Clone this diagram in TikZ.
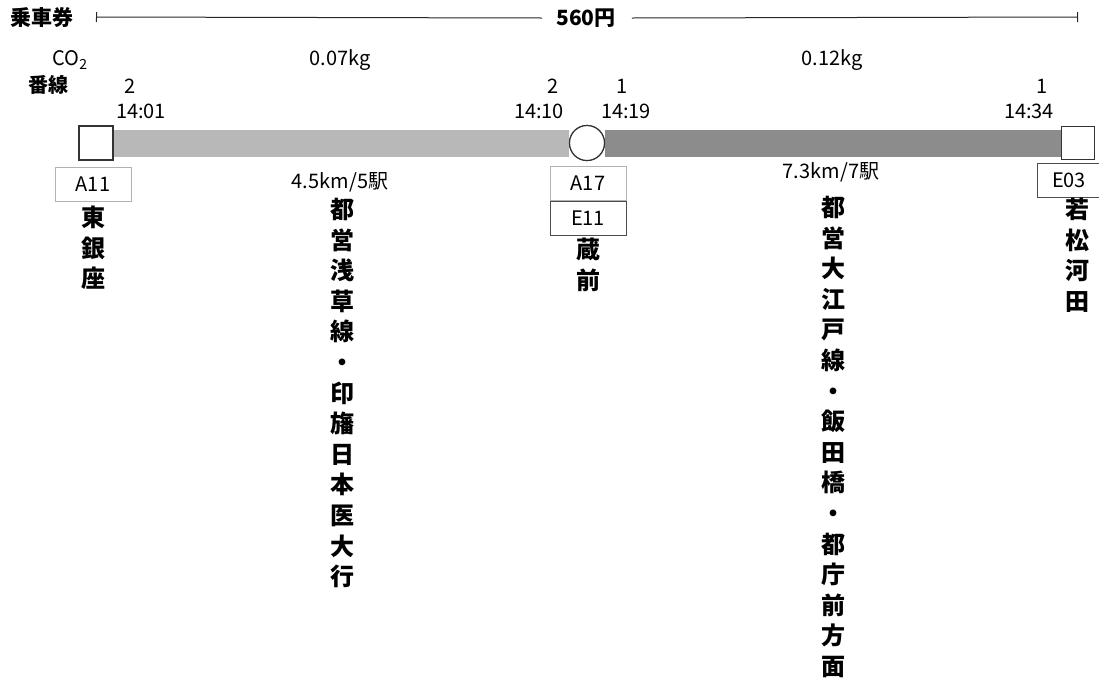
\documentclass[tikz,border=0pt]{standalone}
\usepackage{fontspec}
\setmainfont{Noto Sans CJK JP}
\usetikzlibrary{arrows.meta}
\tikzset{
  lbl/.style={inner sep=0pt, font=\fontsize{20}{20}\selectfont},
  big/.style={inner sep=0pt, font=\bfseries\fontsize{21}{21}\selectfont},
  vert/.style={inner sep=0pt, anchor=north, align=center, font=\bfseries\fontsize{24}{30.6}\selectfont},
  codebox/.style={draw=gray!60, line width=0.8pt, minimum width=76pt, minimum height=34pt, inner sep=0pt, font=\fontsize{20}{20}\selectfont},
  codeboxd/.style={codebox, draw=black!70},
  stn/.style={draw=black!80, line width=1.2pt, fill=white, inner sep=0pt},
  barL/.style={line width=27pt, draw=black!28},
  barR/.style={line width=27pt, draw=black!45},
  fareline/.style={line width=1pt, draw=black!85}
}
\begin{document}
\begin{tikzpicture}[x=1pt,y=-1pt]
\useasboundingbox (0,0) rectangle (1099,681);
% fare line
\node[big, anchor=west] (ticket) at (10,18) {乗車券};
\node[big] (fare) at (586,18) {560円};
\coordinate (tl) at (96,17);
\coordinate (tr) at (1078,17);
\draw[fareline, {Bar[width=10pt]}-] (tl) -- ([xshift=-14pt]fare.west);
\draw[fareline, -{Bar[width=10pt]}] ([xshift=16pt]fare.east) -- (tr);
% headings
\node[lbl] (co2) at (70,60) {CO\textsubscript{2}};
\node[lbl, font=\bfseries\fontsize{20}{20}\selectfont] (bansen) at (48,85) {番線};
\node[lbl] (kgA) at (340,60) {0.07kg};
\node[lbl] (kgB) at (832,60) {0.12kg};
% stations
\node[stn, minimum size=34pt] (sA) at (96,143) {};
\node[stn, circle, minimum size=35pt] (sB) at (587,143) {};
\node[stn, minimum size=33pt] (sC) at (1078,143) {};
% bars
\draw[barL] (sA.east) -- (sB.west);
\draw[barR] (sB.east) -- (sC.west);
\node[stn, minimum size=34pt] at (sA) {};
\node[stn, circle, minimum size=35pt] at (sB) {};
\node[stn, minimum size=33pt] at (sC) {};
% platforms and times
\node[lbl] (pA) at (130,86) {2};
\node[lbl] (tA) at (141,111) {14:01};
\node[lbl] (pB1) at (553,86) {2};
\node[lbl] (tB1) at (539,111) {14:10};
\node[lbl] (pB2) at (622,86) {1};
\node[lbl] (tB2) at (626,111) {14:19};
\node[lbl] (pC) at (1042,86) {1};
\node[lbl] (tC) at (1029,111) {14:34};
% distances
\node[lbl] (dA) at (340,182) {4.5km/5駅};
\node[lbl] (dB) at (831,172) {7.3km/7駅};
% station codes
\node[codebox] (cA) at (93,184) {A11};
\node[codebox] (cB1) at (588,183) {A17};
\node[codeboxd] (cB2) at (588,218) {E11};
\node[codeboxd, minimum width=64pt] (cC) at (1069,180) {E03};
% station names
\node[vert] (nA) at (93,206) {東\\銀\\座};
\node[vert] (nB) at (588,238) {蔵\\前};
\node[vert] (nC) at (1077,198) {若\\松\\河\\田};
% line directions
\node[vert] (lA) at (342,198) {都\\営\\浅\\草\\線\\・\\印\\旛\\日\\本\\医\\大\\行};
\node[vert] (lB) at (833,196) {都\\営\\大\\江\\戸\\線\\・\\飯\\田\\橋\\・\\都\\庁\\前\\方\\面};
\end{tikzpicture}
\end{document}
